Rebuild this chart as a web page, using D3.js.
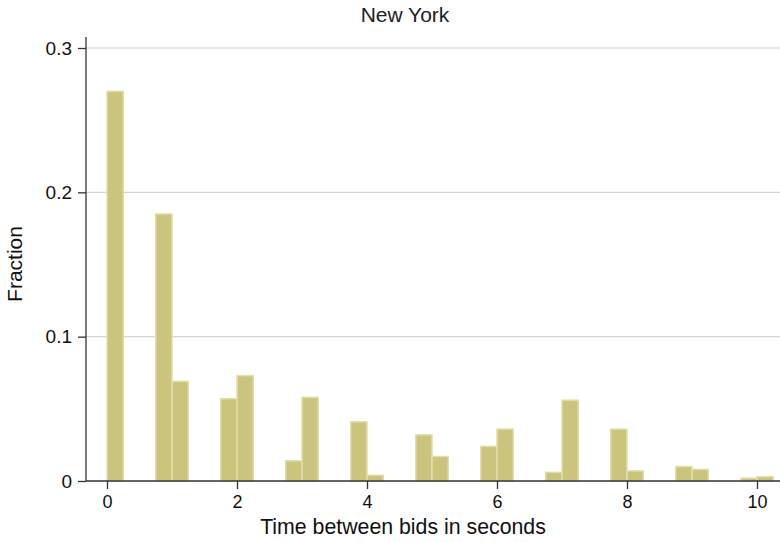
<!DOCTYPE html>
<html>
<head>
<meta charset="utf-8">
<script src="https://cdn.jsdelivr.net/npm/d3@7"></script>
<style>
  html, body { margin: 0; padding: 0; background: #fff; }
  svg { display: block; font-family: "Liberation Sans", Arial, Helvetica, sans-serif; }
</style>
</head>
<body>
<svg id="chart" width="780" height="542"></svg>
<script>
// Data: histogram bins (left edge, seconds) and fractions
const binStarts = [0, 0.75, 1, 1.75, 2, 2.75, 3, 3.75, 4, 4.75, 5, 5.75, 6, 6.75, 7, 7.75, 8, 8.75, 9, 9.75, 10];
const fractions = [0.270, 0.185, 0.069, 0.057, 0.073, 0.014, 0.058, 0.041, 0.004, 0.032, 0.017, 0.024, 0.036, 0.006, 0.056, 0.036, 0.007, 0.010, 0.008, 0.002, 0.003];
const binWidth = 0.25;
const xTicks = [0, 2, 4, 6, 8, 10];
const yTicks = [0, 0.1, 0.2, 0.3];
const yTickLabels = ["0", "0.1", "0.2", "0.3"];
const titleText = "New York";
const xTitle = "Time between bids in seconds";
const yTitle = "Fraction";

const svg = d3.select("#chart");
const plotLeft = 86, plotRight = 780, plotTop = 37, plotBottom = 481;

const x = d3.scaleLinear().domain([0, 10]).range([107, 757]);
const y = d3.scaleLinear().domain([0, 0.3]).range([481, 48]);

// gridlines
svg.append("g").selectAll("line")
  .data(yTicks.filter(d => d > 0))
  .join("line")
  .attr("x1", plotLeft).attr("x2", plotRight)
  .attr("y1", d => y(d)).attr("y2", d => y(d))
  .attr("stroke", "#d4d4d4").attr("stroke-width", 1.2);

// bars
const bars = binStarts.map((s, i) => ({ s, v: fractions[i] }));
svg.append("g").selectAll("rect")
  .data(bars)
  .join("rect")
  .attr("x", d => x(d.s))
  .attr("width", d => x(d.s + binWidth) - x(d.s))
  .attr("y", d => y(d.v))
  .attr("height", d => y(0) - y(d.v))
  .attr("fill", "#cbc47c")
  .attr("stroke", "#e2deab")
  .attr("stroke-width", 1.5);

// x axis
const xAxis = d3.axisBottom(x).tickValues(xTicks).tickSize(8).tickPadding(6).tickFormat(d3.format("d"));
const gx = svg.append("g").attr("transform", `translate(0,${plotBottom})`).call(xAxis);
gx.select(".domain").remove();
gx.append("line").attr("x1", plotLeft).attr("x2", plotRight).attr("y1", 0).attr("y2", 0)
  .attr("stroke", "#333").attr("stroke-width", 1.3);
gx.selectAll(".tick line").attr("stroke", "#333").attr("stroke-width", 1.3);
gx.selectAll(".tick text").attr("fill", "#111").style("font-size", "18px")
  .style("font-family", "'Liberation Sans', Arial, sans-serif");

// y axis
const yAxis = d3.axisLeft(y).tickValues(yTicks).tickSize(8).tickPadding(6)
  .tickFormat((d, i) => yTickLabels[i]);
const gy = svg.append("g").attr("transform", `translate(${plotLeft},0)`).call(yAxis);
gy.select(".domain").remove();
gy.append("line").attr("x1", 0).attr("x2", 0).attr("y1", plotTop).attr("y2", plotBottom)
  .attr("stroke", "#333").attr("stroke-width", 1.3);
gy.selectAll(".tick line").attr("stroke", "#333").attr("stroke-width", 1.3);
gy.selectAll(".tick text").attr("fill", "#111").style("font-size", "19px")
  .style("font-family", "'Liberation Sans', Arial, sans-serif");

// titles
svg.append("text").attr("x", 405).attr("y", 22).attr("text-anchor", "middle")
  .style("font-size", "21px").attr("fill", "#222").text(titleText);
svg.append("text").attr("x", 403).attr("y", 534).attr("text-anchor", "middle")
  .style("font-size", "21.3px").attr("fill", "#111").text(xTitle);
svg.append("text").attr("transform", "translate(22,264) rotate(-90)").attr("text-anchor", "middle")
  .style("font-size", "21px").attr("fill", "#111").text(yTitle);
</script>
</body>
</html>
